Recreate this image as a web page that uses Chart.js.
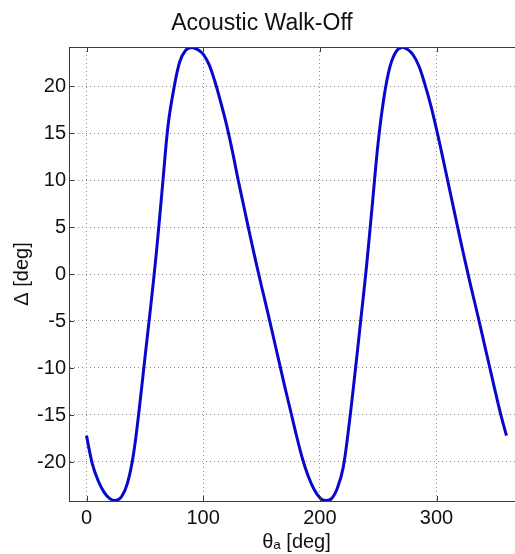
<!DOCTYPE html>
<html>
<head>
<meta charset="utf-8">
<script src="https://cdn.jsdelivr.net/npm/chart.js@4"></script>
<style>
  html, body { margin: 0; padding: 0; background: #fff; overflow: hidden; }
  #walkoff { display: block; }
</style>
</head>
<body>
<canvas id="walkoff" width="524" height="554"></canvas>
<script>
// acoustic angle theta_a [deg]
const thetaDeg = [
  0, 5, 10, 15, 20, 25, 30, 35, 40, 45, 50, 55, 60, 65, 70, 75, 80, 85, 90,
  95, 100, 105, 110, 115, 120, 125, 130, 135, 140, 145, 150, 155, 160, 165, 170, 175, 180,
  185, 190, 195, 200, 205, 210, 215, 220, 225, 230, 235, 240, 245, 250, 255, 260, 265, 270,
  275, 280, 285, 290, 295, 300, 305, 310, 315, 320, 325, 330, 335, 340, 345, 350, 355, 360
];

// walk-off angle Delta [deg]
const walkOff = [
  -17.2, -20.2, -22.0, -23.2, -23.9, -24.1, -23.7, -22.3, -19.4, -14.6, -9.0, -3.5, 2.4, 9.2, 15.9, 19.8, 22.6, 23.8, 24.1,
  23.9, 23.4, 22.3, 20.5, 18.3, 15.9, 13.1, 10.0, 7.1, 4.2, 1.4, -1.3, -3.9, -6.6, -9.3, -12.0, -14.6, -17.2,
  -19.6, -21.5, -22.9, -23.8, -24.1, -23.9, -22.8, -20.6, -16.1, -10.7, -5.0, 0.8, 7.4, 14.0, 18.8, 22.0, 23.6, 24.1,
  23.9, 23.3, 22.1, 20.2, 18.0, 15.4, 12.6, 9.7, 6.8, 3.9, 1.1, -1.6, -4.2, -6.9, -9.6, -12.3, -14.9, -17.2
];

const xTicks = [0, 100, 200, 300];
const yTicks = [-20, -15, -10, -5, 0, 5, 10, 15, 20];
const xRange = [-15, 375];
const yRange = [-24.15, 24.15];

const FONT = "'Liberation Sans', Arial, Helvetica, sans-serif";
const AXIS_COLOR = '#3c3c3c';
const GRID_COLOR = '#8a8a8a';

// top frame line + inward tick marks, matlab box style
const boxFrame = {
  id: 'boxFrame',
  afterDraw(chart) {
    const { ctx, chartArea, scales } = chart;
    ctx.save();
    ctx.strokeStyle = AXIS_COLOR;
    ctx.lineWidth = 1;
    ctx.beginPath();
    ctx.moveTo(chartArea.left, chartArea.top + 0.5);
    ctx.lineTo(chartArea.right, chartArea.top + 0.5);
    xTicks.forEach(v => {
      const px = Math.round(scales.x.getPixelForValue(v)) + 0.5;
      ctx.moveTo(px, chartArea.bottom);
      ctx.lineTo(px, chartArea.bottom - 5);
      ctx.moveTo(px, chartArea.top);
      ctx.lineTo(px, chartArea.top + 5);
    });
    yTicks.forEach(v => {
      const py = Math.round(scales.y.getPixelForValue(v)) + 0.5;
      ctx.moveTo(chartArea.left, py);
      ctx.lineTo(chartArea.left + 5, py);
    });
    ctx.stroke();
    ctx.restore();
  }
};

const points = thetaDeg.map((t, i) => ({ x: t, y: walkOff[i] }));

new Chart(document.getElementById('walkoff'), {
  type: 'line',
  data: {
    datasets: [{
      data: points,
      borderColor: '#0808cc',
      borderWidth: 3,
      pointRadius: 0,
      fill: false,
      tension: 0.35
    }]
  },
  options: {
    responsive: false,
    animation: false,
    layout: { padding: 0 },
    plugins: {
      legend: { display: false },
      tooltip: { enabled: false },
      title: {
        display: true,
        text: 'Acoustic Walk-Off',
        color: '#111',
        font: { family: FONT, size: 23, weight: 'normal', lineHeight: 1.2 },
        padding: { top: 10, bottom: 9.4 }
      }
    },
    scales: {
      x: {
        type: 'linear',
        min: xRange[0],
        max: xRange[1],
        afterBuildTicks: scale => { scale.ticks = xTicks.map(v => ({ value: v })); },
        afterFit: scale => { scale.height = 53; },
        ticks: {
          color: '#111',
          font: { family: FONT, size: 20 },
          padding: 5,
          maxRotation: 0
        },
        grid: { color: GRID_COLOR, lineWidth: 1, drawTicks: false },
        border: { display: true, color: AXIS_COLOR, width: 1, dash: [1, 3] },
        title: {
          display: true,
          text: 'θₐ [deg]',
          color: '#111',
          font: { family: FONT, size: 20 },
          padding: { top: 0, bottom: 0 }
        }
      },
      y: {
        type: 'linear',
        min: yRange[0],
        max: yRange[1],
        afterBuildTicks: scale => { scale.ticks = yTicks.map(v => ({ value: v })); },
        afterFit: scale => { scale.width = 69; },
        ticks: {
          color: '#111',
          font: { family: FONT, size: 20 },
          padding: 3
        },
        grid: { color: GRID_COLOR, lineWidth: 1, drawTicks: false },
        border: { display: true, color: AXIS_COLOR, width: 1, dash: [1, 3] },
        title: {
          display: true,
          text: 'Δ [deg]',
          color: '#111',
          font: { family: FONT, size: 20 },
          padding: { top: 10, bottom: 0 }
        }
      }
    }
  },
  plugins: [boxFrame]
});
</script>
</body>
</html>
